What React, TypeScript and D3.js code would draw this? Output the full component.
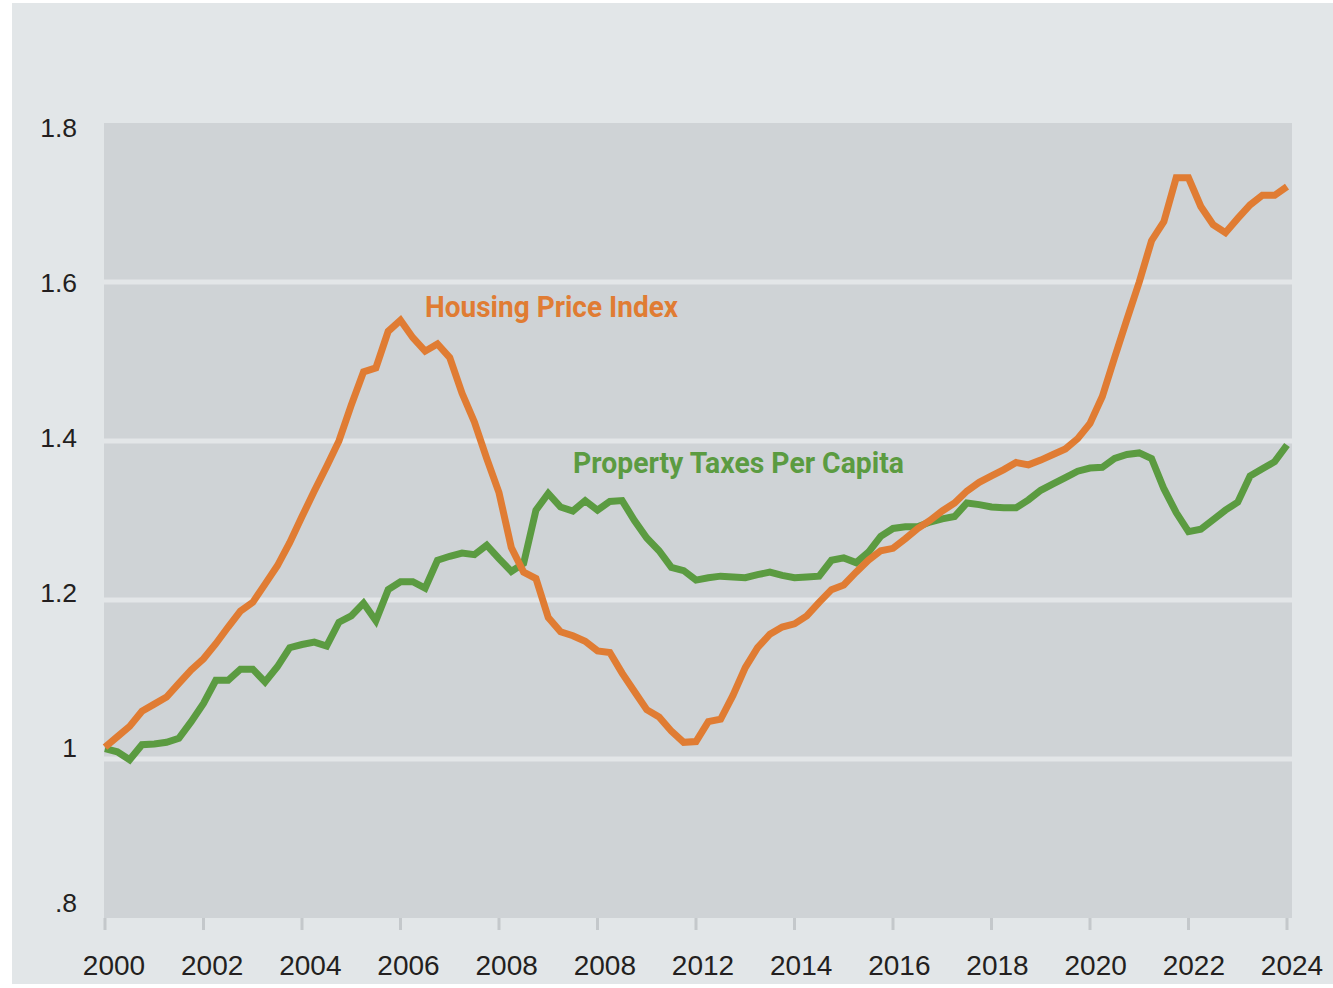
import React from "react";
import * as d3 from "d3";

// Quarterly observations, 2000Q1 .. 2024Q1 (index 2000 = 1)
const startYear = 2000;
const housingPriceIndex = [
  1.015, 1.028, 1.041, 1.060, 1.069, 1.078, 1.095, 1.112,
  1.126, 1.145, 1.166, 1.186, 1.197, 1.220, 1.243, 1.272,
  1.305, 1.337, 1.368, 1.400, 1.445, 1.487, 1.492, 1.538,
  1.552, 1.530, 1.513, 1.522, 1.505, 1.460, 1.424, 1.378,
  1.335, 1.266, 1.235, 1.227, 1.178, 1.160, 1.155, 1.148,
  1.136, 1.134, 1.108, 1.085, 1.062, 1.053, 1.035, 1.021,
  1.022, 1.047, 1.050, 1.080, 1.115, 1.140, 1.157, 1.166,
  1.170, 1.180, 1.197, 1.213, 1.219, 1.235, 1.250, 1.262,
  1.265, 1.277, 1.290, 1.300, 1.312, 1.322, 1.337, 1.348,
  1.356, 1.364, 1.373, 1.370, 1.376, 1.383, 1.390, 1.403,
  1.422, 1.456, 1.505, 1.553, 1.600, 1.652, 1.676, 1.731,
  1.731, 1.695, 1.672, 1.662, 1.680, 1.697, 1.709, 1.709,
  1.720,
];
const propertyTaxesPerCapita = [
  1.013, 1.009, 0.999, 1.018, 1.019, 1.021, 1.026, 1.047,
  1.070, 1.099, 1.099, 1.113, 1.113, 1.097, 1.116, 1.140,
  1.144, 1.147, 1.142, 1.172, 1.180, 1.196, 1.174, 1.213,
  1.223, 1.223, 1.215, 1.250, 1.255, 1.259, 1.257, 1.269,
  1.252, 1.236, 1.246, 1.313, 1.334, 1.317, 1.312, 1.325,
  1.313, 1.324, 1.325, 1.300, 1.278, 1.262, 1.241, 1.237,
  1.225, 1.228, 1.230, 1.229, 1.228, 1.232, 1.235, 1.231,
  1.228, 1.229, 1.230, 1.250, 1.253, 1.247, 1.260, 1.280,
  1.290, 1.292, 1.292, 1.298, 1.302, 1.305, 1.322, 1.320,
  1.317, 1.316, 1.316, 1.326, 1.338, 1.346, 1.354, 1.362,
  1.366, 1.367, 1.378, 1.383, 1.385, 1.378, 1.340, 1.310,
  1.286, 1.289, 1.301, 1.313, 1.323, 1.356, 1.365, 1.374,
  1.395,
];
const yTicks = [0.8, 1.0, 1.2, 1.4, 1.6, 1.8];
const yTickLabels = [".8", "1", "1.2", "1.4", "1.6", "1.8"];
const gridValues = [1.0, 1.2, 1.4, 1.6];
const xTicks = [2000, 2002, 2004, 2006, 2008, 2010, 2012, 2014, 2016, 2018, 2020, 2022, 2024];
const xTickLabels = ["2000", "2002", "2004", "2006", "2008", "2008", "2012", "2014", "2016", "2018", "2020", "2022", "2024"];
const seriesNames = ["Housing Price Index", "Property Taxes Per Capita"];

const W = 1333;
const H = 988;
const ORANGE = "#e07c33";
const GREEN = "#5b9b41";

export default function App() {
  const x = d3.scaleLinear().domain([2000, 2024]).range([105, 1287]);
  const xLabel = d3.scaleLinear().domain([2000, 2024]).range([114, 1292]);
  const y = d3.scaleLinear().domain([0.8, 1.8]).range([918, 123]);
  const yLabel = d3.scaleLinear().domain([0.8, 1.8]).range([912, 137]);

  const line = d3
    .line<number>()
    .x((_, i) => x(startYear + i / 4))
    .y((d) => y(d))
    .curve(d3.curveLinear);

  const panelLeft = 104;
  const panelRight = 1292;

  return (
    <svg
      width={W}
      height={H}
      style={{ position: "absolute", left: 0, top: 0, background: "#ffffff" }}
      fontFamily="'Liberation Sans', Arial, sans-serif"
    >
      <rect x={12} y={3} width={W - 12} height={981} fill="#e2e6e8" />
      <rect x={panelLeft} y={y(1.8)} width={panelRight - panelLeft} height={y(0.8) - y(1.8)} fill="#cfd3d6" />
      {gridValues.map((g) => (
        <line key={g} x1={panelLeft} x2={panelRight} y1={y(g)} y2={y(g)} stroke="#e3e6e8" strokeWidth={5} />
      ))}
      {xTicks.map((t) => (
        <line key={t} x1={x(t)} x2={x(t)} y1={y(0.8)} y2={y(0.8) + 12} stroke="#c4c8cb" strokeWidth={3} />
      ))}
      {xTicks.map((t, i) => (
        <text key={"xl" + t} x={xLabel(t)} y={975} textAnchor="middle" fontSize={28} fill="#231f20">
          {xTickLabels[i]}
        </text>
      ))}
      {yTicks.map((t, i) => (
        <text key={"yl" + t} x={77} y={yLabel(t)} textAnchor="end" fontSize={26.5} fill="#231f20">
          {yTickLabels[i]}
        </text>
      ))}
      <path d={line(propertyTaxesPerCapita) || ""} fill="none" stroke={GREEN} strokeWidth={7} strokeLinejoin="miter" />
      <path d={line(housingPriceIndex) || ""} fill="none" stroke={ORANGE} strokeWidth={7} strokeLinejoin="miter" />
      <text
        x={425}
        y={317}
        fontFamily="Roboto, 'Liberation Sans', sans-serif"
        fontWeight={700}
        fontSize={29}
        fill={ORANGE}
        textLength={253}
        lengthAdjust="spacingAndGlyphs"
      >
        {seriesNames[0]}
      </text>
      <text
        x={573}
        y={473}
        fontFamily="Roboto, 'Liberation Sans', sans-serif"
        fontWeight={700}
        fontSize={29}
        fill={GREEN}
        textLength={331}
        lengthAdjust="spacingAndGlyphs"
      >
        {seriesNames[1]}
      </text>
    </svg>
  );
}
